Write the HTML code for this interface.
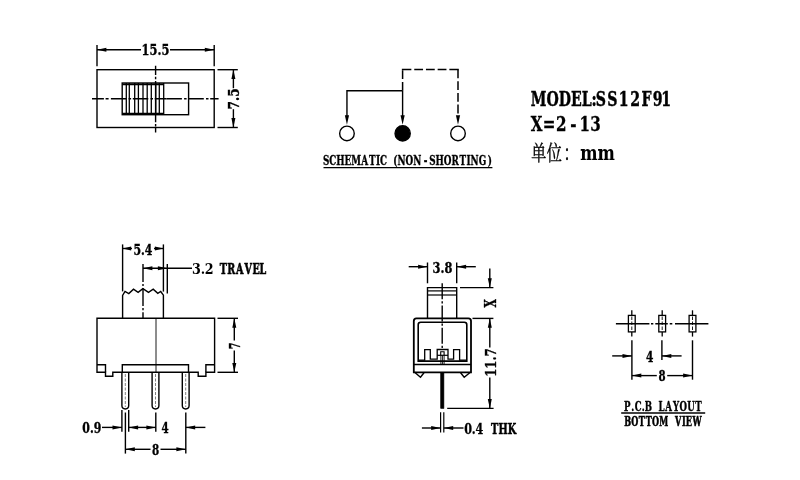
<!DOCTYPE html>
<html lang="zh">
<head>
<meta charset="utf-8">
<title>SS12F91 Slide Switch Drawing</title>
<style>
html,body{margin:0;padding:0;background:#fff;}
body{width:800px;height:480px;overflow:hidden;}
svg{display:block;will-change:transform;}
svg line, svg path, svg rect, svg circle{stroke:#000;stroke-linecap:butt;stroke-linejoin:miter;}
svg text{font-family:"DejaVu Serif Condensed","DejaVu Serif","Liberation Serif","Noto Serif CJK SC",serif;fill:#000;}
svg text.cjk{font-family:"Noto Serif CJK SC","Liberation Serif",serif;stroke:#000;stroke-width:0.4;}
</style>
</head>
<body>
<svg width="800" height="480" viewBox="0 0 800 480">
<rect x="0" y="0" width="800" height="480" fill="#fff" stroke="none" style="stroke:none"/>
<rect x="97" y="69.7" width="117.2" height="57.8" stroke-width="1.4" fill="none"/>
<rect x="122.2" y="83" width="66.4" height="31.7" stroke-width="1.4" fill="none"/>
<line x1="122.2" y1="84.4" x2="163.7" y2="84.4" stroke-width="1.6"/>
<line x1="122.2" y1="113.6" x2="163.7" y2="113.6" stroke-width="1.6"/>
<line x1="126.3" y1="83" x2="126.3" y2="114.7" stroke-width="1.3"/>
<line x1="129.3" y1="83" x2="129.3" y2="114.7" stroke-width="1.3"/>
<line x1="134.7" y1="83" x2="134.7" y2="114.7" stroke-width="1.3"/>
<line x1="138.4" y1="83" x2="138.4" y2="114.7" stroke-width="1.3"/>
<line x1="143" y1="83" x2="143" y2="114.7" stroke-width="1.3"/>
<line x1="147.2" y1="83" x2="147.2" y2="114.7" stroke-width="1.3"/>
<line x1="151.3" y1="83" x2="151.3" y2="114.7" stroke-width="1.3"/>
<line x1="155.7" y1="83" x2="155.7" y2="114.7" stroke-width="1.3"/>
<line x1="159.3" y1="83" x2="159.3" y2="114.7" stroke-width="1.3"/>
<line x1="163.7" y1="83" x2="163.7" y2="114.7" stroke-width="1.3"/>
<line x1="97" y1="44.9" x2="97" y2="66.2" stroke-width="1.4"/>
<line x1="214.2" y1="44.9" x2="214.2" y2="66.2" stroke-width="1.4"/>
<line x1="97" y1="49.7" x2="141" y2="49.7" stroke-width="1.4"/>
<line x1="170" y1="49.7" x2="214.2" y2="49.7" stroke-width="1.4"/>
<polygon points="97,49.7 106.4,47.7 106.4,51.7" fill="#000" stroke="none"/>
<polygon points="214.2,49.7 204.79999999999998,47.7 204.79999999999998,51.7" fill="#000" stroke="none"/>
<text x="141.6" y="55.4" font-size="15.64" font-weight="bold" textLength="27.8" lengthAdjust="spacingAndGlyphs" stroke="#000" stroke-width="0.35">15.5</text>
<line x1="217.5" y1="69.7" x2="237.8" y2="69.7" stroke-width="1.4"/>
<line x1="217.5" y1="127.5" x2="237.8" y2="127.5" stroke-width="1.4"/>
<line x1="233.4" y1="69.7" x2="233.4" y2="88.2" stroke-width="1.4"/>
<line x1="233.4" y1="109.2" x2="233.4" y2="127.5" stroke-width="1.4"/>
<polygon points="233.4,69.7 231.4,79.10000000000001 235.4,79.10000000000001" fill="#000" stroke="none"/>
<polygon points="233.4,127.5 231.4,118.1 235.4,118.1" fill="#000" stroke="none"/>
<text x="239.2" y="109.4" font-size="15.64" font-weight="bold" textLength="21" lengthAdjust="spacingAndGlyphs" stroke="#000" stroke-width="0.35" transform="rotate(-90 239.2 109.4)">7.5</text>
<line x1="92" y1="98.8" x2="166.4" y2="98.8" stroke-width="1.4" stroke-dasharray="11.9 1.7 3 2.3 15.5 2.2 2.5 1.7 15.5 2.2 2.5 1.7 15.5 2.2 2.5 1.7"/>
<line x1="166.4" y1="98.8" x2="218.6" y2="98.8" stroke-width="1.4" stroke-dasharray="15.5 2.2 2.5 1.7"/>
<line x1="155.6" y1="65.8" x2="155.6" y2="132.5" stroke-width="1.4" stroke-dasharray="9.2 1.7 2.5 1.7 41.3 1.7 2.5 1.7 9"/>
<circle cx="346.95" cy="133.4" r="7.3" fill="none" stroke-width="1.4"/>
<circle cx="402.65" cy="133.4" r="7.6" fill="#000" stroke-width="1.4"/>
<circle cx="458" cy="133.4" r="7.3" fill="none" stroke-width="1.4"/>
<path d="M346.95 116 V90.8 H402.6 M402.6 90.8 V116" stroke-width="1.4" fill="none"/>
<polygon points="346.95,124.8 344.84999999999997,115.2 349.05,115.2" fill="#000" stroke="none"/>
<polygon points="402.6,124.8 400.5,115.2 404.70000000000005,115.2" fill="#000" stroke="none"/>
<polygon points="458,124.8 455.9,115.2 460.1,115.2" fill="#000" stroke="none"/>
<line x1="402.6" y1="90.8" x2="402.6" y2="69.5" stroke-width="1.5" stroke-dasharray="8.8 2.9"/>
<line x1="401.85" y1="69.5" x2="458.75" y2="69.5" stroke-width="1.5" stroke-dasharray="9.5 2.9 8.8 2.9 8.8 2.9 8.8 2.9 9.5"/>
<line x1="458" y1="69.5" x2="458" y2="116" stroke-width="1.5" stroke-dasharray="8.8 2.9"/>
<text x="411.37 419.35 428.21 438.81 447.34 460.34 470.08 478.83 484.11 491.60 501.03 506.28 516.64 526.46 539.87 546.81 554.74 565.39 575.19 585.48 594.22 599.48 609.85 621.40" y="165.3" font-size="12.48" font-weight="bold" transform="scale(0.785 1)" xml:space="preserve" stroke="#000" stroke-width="0.31">SCHEMATIC (NON-SHORTING)</text>
<line x1="323.5" y1="167.6" x2="492.4" y2="167.6" stroke-width="1.4"/>
<text x="717.17 738.40 755.10 771.76 786.23 799.25 805.03 820.66 836.23 851.61 867.04 882.07 893.58" y="106.1" font-size="21.26" font-weight="bold" transform="scale(0.740 1)" xml:space="preserve" stroke="#000" stroke-width="0.41">MODEL:SS12F91</text>
<text x="671.69 687.02 703.85 721.88 733.63 747.21" y="131.5" font-size="21.26" font-weight="bold" transform="scale(0.790 1)" xml:space="preserve" stroke="#000" stroke-width="0.30">X=2-13</text>
<text x="0 21.6 45" y="159.6" font-size="21" font-weight="normal" class="cjk" transform="translate(531.2 0) scale(0.72 1)">单位：</text>
<text x="580.3" y="160" font-size="21.26" font-weight="bold" textLength="34.6" lengthAdjust="spacingAndGlyphs" stroke="#000" stroke-width="0.1">mm</text>
<path d="M97 318.3 H214.6 V372.3 H205.9 V376.2 H198.2 V372.3 H112.8 V376.2 H105.5 V372.3 H97 Z" stroke-width="1.4" fill="none"/>
<path d="M97 364.8 H105.5 V372.3 M214.6 364.8 H205.9 V372.3" stroke-width="1.4" fill="none"/>
<path d="M122.3 372.3 V364.8 H188.5 V372.3" stroke-width="1.4" fill="none"/>
<line x1="156" y1="318.3" x2="156" y2="372.3" stroke-width="0.9"/>
<path d="M122.6 318.3 V295.4 L125 291.5 L128.8 293.6 L133.5 289.2 L138.1 292.3 L142.9 288.6 L148.5 292.3 L153.2 289.2 L157.8 293.3 L160.7 291.5 L163.4 295.2 V318.3" stroke-width="1.4" fill="none"/>
<line x1="122.6" y1="244.4" x2="122.6" y2="291.4" stroke-width="1.4"/>
<line x1="163.4" y1="244.4" x2="163.4" y2="291.6" stroke-width="1.4"/>
<line x1="122.6" y1="248.5" x2="132" y2="248.5" stroke-width="1.4"/>
<line x1="154" y1="248.5" x2="163.4" y2="248.5" stroke-width="1.4"/>
<polygon points="122.6,248.5 131.1,246.5 131.1,250.5" fill="#000" stroke="none"/>
<polygon points="163.4,248.5 154.9,246.5 154.9,250.5" fill="#000" stroke="none"/>
<text x="133.4" y="254.6" font-size="14.27" font-weight="bold" textLength="19" lengthAdjust="spacingAndGlyphs" stroke="#000" stroke-width="0.35">5.4</text>
<line x1="143" y1="263.9" x2="143" y2="318.3" stroke-width="1.4" stroke-dasharray="18 2 2.2 2"/>
<line x1="167.3" y1="263.9" x2="167.3" y2="293.5" stroke-width="1.4"/>
<line x1="143" y1="268.2" x2="192" y2="268.2" stroke-width="1.4"/>
<polygon points="143,268.2 152.4,266.2 152.4,270.2" fill="#000" stroke="none"/>
<polygon points="167.3,268.2 157.9,266.2 157.9,270.2" fill="#000" stroke="none"/>
<text x="209.04 218.51 222.72" y="273.7" font-size="15.36" font-weight="bold" transform="scale(0.919 1)" xml:space="preserve">3.2</text>
<text x="317.25 327.91 340.72 352.85 364.27 374.61" y="273.7" font-size="15.36" font-weight="bold" transform="scale(0.693 1)" xml:space="preserve" stroke="#000" stroke-width="0.52">TRAVEL</text>
<path d="M121.89999999999999 372.3 V405.6 A3.4 3.4 0 0 0 128.7 405.6 V372.3" stroke-width="1.4" fill="none"/>
<line x1="125.3" y1="374" x2="125.3" y2="407" stroke-width="0.5" stroke-dasharray="3 1.5"/>
<path d="M152.1 372.3 V405.6 A3.4 3.4 0 0 0 158.9 405.6 V372.3" stroke-width="1.4" fill="none"/>
<line x1="155.5" y1="374" x2="155.5" y2="407" stroke-width="0.5" stroke-dasharray="3 1.5"/>
<path d="M182.29999999999998 372.3 V405.6 A3.4 3.4 0 0 0 189.1 405.6 V372.3" stroke-width="1.4" fill="none"/>
<line x1="185.7" y1="374" x2="185.7" y2="407" stroke-width="0.5" stroke-dasharray="3 1.5"/>
<line x1="217.5" y1="318.3" x2="238" y2="318.3" stroke-width="1.4"/>
<line x1="217.5" y1="372.3" x2="238" y2="372.3" stroke-width="1.4"/>
<line x1="234.3" y1="318.3" x2="234.3" y2="340.5" stroke-width="1.4"/>
<line x1="234.3" y1="350.5" x2="234.3" y2="372.3" stroke-width="1.4"/>
<polygon points="234.3,318.3 232.3,327.7 236.3,327.7" fill="#000" stroke="none"/>
<polygon points="234.3,372.3 232.3,362.90000000000003 236.3,362.90000000000003" fill="#000" stroke="none"/>
<text x="239.6" y="349.2" font-size="15.64" font-weight="bold" textLength="6.8" lengthAdjust="spacingAndGlyphs" stroke="#000" stroke-width="0.35" transform="rotate(-90 239.6 349.2)">7</text>
<line x1="121.9" y1="410" x2="121.9" y2="431.8" stroke-width="1.4"/>
<line x1="128.7" y1="410" x2="128.7" y2="431.8" stroke-width="1.4"/>
<line x1="125.4" y1="412.5" x2="125.4" y2="453.6" stroke-width="1.4"/>
<line x1="155.8" y1="412.5" x2="155.8" y2="431.8" stroke-width="1.4"/>
<line x1="185.8" y1="412.5" x2="185.8" y2="453.6" stroke-width="1.4"/>
<line x1="102" y1="427.4" x2="121.9" y2="427.4" stroke-width="1.4"/>
<polygon points="121.9,427.4 112.5,425.4 112.5,429.4" fill="#000" stroke="none"/>
<line x1="128.7" y1="427.4" x2="155.8" y2="427.4" stroke-width="1.4"/>
<polygon points="128.7,427.4 138.1,425.4 138.1,429.4" fill="#000" stroke="none"/>
<polygon points="155.8,427.4 146.4,425.4 146.4,429.4" fill="#000" stroke="none"/>
<line x1="185.8" y1="427.4" x2="205.4" y2="427.4" stroke-width="1.4"/>
<polygon points="185.8,427.4 195.20000000000002,425.4 195.20000000000002,429.4" fill="#000" stroke="none"/>
<text x="82.3" y="432.6" font-size="15.36" font-weight="bold" textLength="19" lengthAdjust="spacingAndGlyphs" stroke="#000" stroke-width="0.35">0.9</text>
<text x="161.6" y="433.4" font-size="15.64" font-weight="bold" textLength="7.2" lengthAdjust="spacingAndGlyphs" stroke="#000" stroke-width="0.35">4</text>
<line x1="125.4" y1="449.3" x2="150.5" y2="449.3" stroke-width="1.4"/>
<line x1="160.5" y1="449.3" x2="185.8" y2="449.3" stroke-width="1.4"/>
<polygon points="125.4,449.3 134.8,447.3 134.8,451.3" fill="#000" stroke="none"/>
<polygon points="185.8,449.3 176.4,447.3 176.4,451.3" fill="#000" stroke="none"/>
<text x="152" y="454.6" font-size="15.64" font-weight="bold" textLength="7.2" lengthAdjust="spacingAndGlyphs" stroke="#000" stroke-width="0.35">8</text>
<path d="M427.5 318.4 V287.6 H456.7 V318.4" stroke-width="1.4" fill="none"/>
<line x1="427.5" y1="290.9" x2="456.7" y2="290.9" stroke-width="1.2"/>
<line x1="427.5" y1="295" x2="456.7" y2="295" stroke-width="1.2"/>
<line x1="427.5" y1="262.5" x2="427.5" y2="283.3" stroke-width="1.4"/>
<line x1="456.7" y1="262.5" x2="456.7" y2="283.3" stroke-width="1.4"/>
<line x1="408.7" y1="266.7" x2="427.5" y2="266.7" stroke-width="1.4"/>
<polygon points="427.5,266.7 418.1,264.7 418.1,268.7" fill="#000" stroke="none"/>
<line x1="456.7" y1="266.7" x2="475.8" y2="266.7" stroke-width="1.4"/>
<polygon points="456.7,266.7 466.09999999999997,264.7 466.09999999999997,268.7" fill="#000" stroke="none"/>
<text x="432.6" y="272.5" font-size="14.81" font-weight="bold" textLength="19.8" lengthAdjust="spacingAndGlyphs" stroke="#000" stroke-width="0.35">3.8</text>
<line x1="442.2" y1="283.3" x2="442.2" y2="349.5" stroke-width="1.4" stroke-dasharray="16 2 2.2 2"/>
<path d="M413.8 372.3 V321 Q413.8 318.4 416.4 318.4 H468.4 Q471 318.4 471 321 V372.3 Z" stroke-width="1.8" fill="none"/>
<path d="M418.2 361.1 V324.8 Q418.2 322.3 420.7 322.3 H464.3 Q466.8 322.3 466.8 324.8 V361.1 Z" stroke-width="1.6" fill="none"/>
<line x1="413.8" y1="364.5" x2="471" y2="364.5" stroke-width="1.4"/>
<path d="M418.2 360.2 H424.7 V349.6 H430.3 V359.1 H437.2 V349.5 H448 V359.1 H453.6 V349.6 H459.6 V360.2 H466.8" stroke-width="1.3" fill="none"/>
<path d="M437.2 355.3 H448" stroke-width="1.2" fill="none"/>
<path d="M440.7 355.3 V351.7 H444.1 V355.3" stroke-width="1.1" fill="none"/>
<path d="M414.6 372.3 L420.5 377.2 L424 372.8" stroke-width="1.4" fill="none"/>
<path d="M460.6 372.8 L464.2 377.2 L470.4 372.3" stroke-width="1.4" fill="none"/>
<rect x="440.7" y="372.3" width="3.2" height="36.1" stroke-width="0.6" fill="#000"/>
<line x1="440.9" y1="355.3" x2="440.9" y2="364.3" stroke-width="0.9"/>
<line x1="442.5" y1="355.3" x2="442.5" y2="364.3" stroke-width="0.8"/>
<line x1="444.1" y1="355.3" x2="444.1" y2="364.3" stroke-width="0.9"/>
<line x1="460" y1="287.6" x2="493.4" y2="287.6" stroke-width="1.4"/>
<line x1="472.5" y1="318.4" x2="493.4" y2="318.4" stroke-width="1.4"/>
<line x1="447.2" y1="408.4" x2="493.6" y2="408.4" stroke-width="1.4"/>
<line x1="489.8" y1="268.5" x2="489.8" y2="287.6" stroke-width="1.4"/>
<polygon points="489.8,287.6 487.8,278.20000000000005 491.8,278.20000000000005" fill="#000" stroke="none"/>
<line x1="489.8" y1="318.4" x2="489.8" y2="347.5" stroke-width="1.4"/>
<line x1="489.8" y1="377.5" x2="489.8" y2="408.4" stroke-width="1.4"/>
<polygon points="489.8,318.4 487.8,327.79999999999995 491.8,327.79999999999995" fill="#000" stroke="none"/>
<polygon points="489.8,408.4 487.8,399.0 491.8,399.0" fill="#000" stroke="none"/>
<text x="495.6" y="307.6" font-size="15.91" font-weight="bold" textLength="8.3" lengthAdjust="spacingAndGlyphs" stroke="#000" stroke-width="0.35" transform="rotate(-90 495.6 307.6)">X</text>
<text x="495.8" y="376.8" font-size="15.64" font-weight="bold" textLength="28.4" lengthAdjust="spacingAndGlyphs" stroke="#000" stroke-width="0.35" transform="rotate(-90 495.8 376.8)">11.7</text>
<line x1="440.6" y1="412.3" x2="440.6" y2="432.4" stroke-width="1.2"/>
<line x1="443.8" y1="412.3" x2="443.8" y2="432.4" stroke-width="1.2"/>
<line x1="421.9" y1="428" x2="440.6" y2="428" stroke-width="1.4"/>
<polygon points="440.6,428 431.20000000000005,426.0 431.20000000000005,430.0" fill="#000" stroke="none"/>
<line x1="443.8" y1="428" x2="463.5" y2="428" stroke-width="1.4"/>
<polygon points="443.8,428 453.2,426.0 453.2,430.0" fill="#000" stroke="none"/>
<text x="582.35 591.95 596.66" y="433.8" font-size="15.64" font-weight="bold" transform="scale(0.797 1)" xml:space="preserve" stroke="#000" stroke-width="0.28">0.4</text>
<text x="705.49 716.32 729.48" y="433.8" font-size="15.64" font-weight="bold" transform="scale(0.696 1)" xml:space="preserve" stroke="#000" stroke-width="0.51">THK</text>
<rect x="628.4" y="315.4" width="6.8" height="16.5" stroke-width="1.3" fill="none"/>
<line x1="631.8" y1="310.3" x2="631.8" y2="315.4" stroke-width="1.3"/>
<line x1="631.8" y1="331.9" x2="631.8" y2="336.6" stroke-width="1.3"/>
<line x1="631.8" y1="316.5" x2="631.8" y2="331.5" stroke-width="0.9" stroke-dasharray="3.5 1.5"/>
<rect x="658.8000000000001" y="315.4" width="6.8" height="16.5" stroke-width="1.3" fill="none"/>
<line x1="662.2" y1="310.3" x2="662.2" y2="315.4" stroke-width="1.3"/>
<line x1="662.2" y1="331.9" x2="662.2" y2="336.6" stroke-width="1.3"/>
<line x1="662.2" y1="316.5" x2="662.2" y2="331.5" stroke-width="0.9" stroke-dasharray="3.5 1.5"/>
<rect x="689.1" y="315.4" width="6.8" height="16.5" stroke-width="1.3" fill="none"/>
<line x1="692.5" y1="310.3" x2="692.5" y2="315.4" stroke-width="1.3"/>
<line x1="692.5" y1="331.9" x2="692.5" y2="336.6" stroke-width="1.3"/>
<line x1="692.5" y1="316.5" x2="692.5" y2="331.5" stroke-width="0.9" stroke-dasharray="3.5 1.5"/>
<line x1="615.9" y1="323.8" x2="708.4" y2="323.8" stroke-width="1.4" stroke-dasharray="33.5 1.6 2.3 2 12.5 1.9 2.6 2.7 34"/>
<line x1="631.9" y1="340.3" x2="631.9" y2="379.7" stroke-width="1.4"/>
<line x1="661.9" y1="340.3" x2="661.9" y2="360" stroke-width="1.4"/>
<line x1="692.5" y1="340.3" x2="692.5" y2="379.7" stroke-width="1.4"/>
<line x1="612.2" y1="355.9" x2="631.9" y2="355.9" stroke-width="1.4"/>
<polygon points="631.9,355.9 622.5,353.9 622.5,357.9" fill="#000" stroke="none"/>
<line x1="661.9" y1="355.9" x2="681.6" y2="355.9" stroke-width="1.4"/>
<polygon points="661.9,355.9 671.3,353.9 671.3,357.9" fill="#000" stroke="none"/>
<text x="646" y="361.9" font-size="15.5" font-weight="bold" textLength="7.4" lengthAdjust="spacingAndGlyphs" stroke="#000" stroke-width="0.35">4</text>
<line x1="631.9" y1="375.6" x2="656.8" y2="375.6" stroke-width="1.4"/>
<line x1="667.2" y1="375.6" x2="692.5" y2="375.6" stroke-width="1.4"/>
<polygon points="631.9,375.6 641.3,373.6 641.3,377.6" fill="#000" stroke="none"/>
<polygon points="692.5,375.6 683.1,373.6 683.1,377.6" fill="#000" stroke="none"/>
<text x="658.5" y="381" font-size="14.68" font-weight="bold" textLength="7.1" lengthAdjust="spacingAndGlyphs" stroke="#000" stroke-width="0.35">8</text>
<text x="806.13 815.47 820.00 829.15 833.15 840.56 850.84 859.52 869.40 878.00 887.85 898.21" y="411" font-size="12.35" font-weight="bold" transform="scale(0.774 1)" xml:space="preserve" stroke="#000" stroke-width="0.33">P.C.B LAYOUT</text>
<line x1="621.2" y1="413.1" x2="705.2" y2="413.1" stroke-width="1.5"/>
<text x="891.80 901.87 912.49 922.33 931.51 941.76 949.50 964.41 974.17 979.67 989.15" y="426" font-size="12.89" font-weight="bold" transform="scale(0.700 1)" xml:space="preserve" stroke="#000" stroke-width="0.51">BOTTOM VIEW</text>
</svg>
</body>
</html>
